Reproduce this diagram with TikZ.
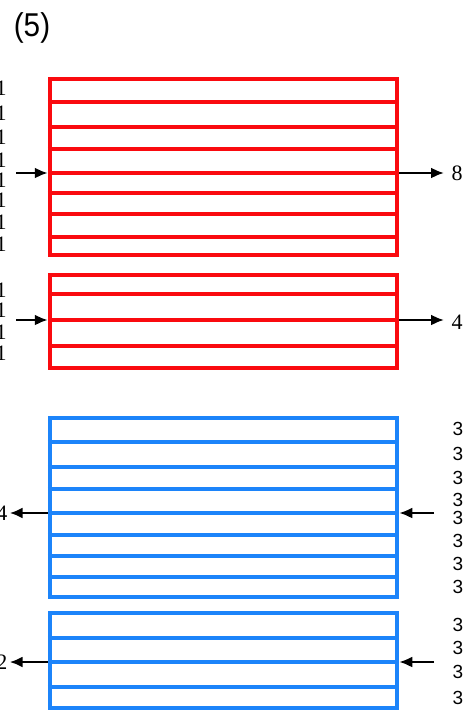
\documentclass[tikz,border=0pt]{standalone}
\usepackage{fontspec}
\setmainfont{Liberation Serif}
\newfontfamily\labsans{Liberation Sans}
\usetikzlibrary{arrows.meta}
\definecolor{bandred}{RGB}{250,10,15}
\definecolor{bandblue}{RGB}{28,132,250}
\begin{document}
\begin{tikzpicture}[x=1pt, y=-1pt]
  \tikzstyle{redbox}=[draw=bandred, line width=4.5pt, rectangle, inner sep=0pt, minimum width=347pt]
  \tikzstyle{bluebox}=[draw=bandblue, line width=4.5pt, rectangle, inner sep=0pt, minimum width=347pt]
  \tikzstyle{arr}=[line width=2.2pt, -{Latex[length=13pt,width=11pt]}]
  \tikzstyle{num}=[inner sep=2pt, font=\fontsize{22}{22}\selectfont]
  \tikzstyle{numsans}=[inner sep=2pt, font=\labsans\fontsize{19}{19}\selectfont]

\useasboundingbox (0,0) rectangle (466,712);

\node[font=\labsans\fontsize{33}{33}\selectfont, inner sep=0pt, xscale=0.9] (title) at (32,28) {(5)};

\node[redbox, minimum height=176pt] (r1) at (223.5,167) {};
\foreach \yy in {102,127,149,173,193,214,237}
  \draw[bandred, line width=4.5pt] (r1.west |- 0,\yy) -- (r1.east |- 0,\yy);

\node[redbox, minimum height=93pt] (r2) at (223.5,321.5) {};
\foreach \yy in {294,320,346}
  \draw[bandred, line width=4.5pt] (r2.west |- 0,\yy) -- (r2.east |- 0,\yy);

\node[bluebox, minimum height=179pt] (b1) at (223.5,507.5) {};
\foreach \yy in {442,467,489,513,535,556,577}
  \draw[bandblue, line width=4.5pt] (b1.west |- 0,\yy) -- (b1.east |- 0,\yy);

\node[bluebox, minimum height=95pt] (b2) at (223.5,660.5) {};
\foreach \yy in {638,662,687}
  \draw[bandblue, line width=4.5pt] (b2.west |- 0,\yy) -- (b2.east |- 0,\yy);

\foreach \yy [count=\i] in {88,113,137,160,180,200,222,244}
  \node[num] (l1\i) at (1,\yy) {1};
\foreach \yy [count=\i] in {290,310,332,353}
  \node[num] (l2\i) at (1,\yy) {1};

\foreach \yy [count=\i] in {429,454,478,500,518,541,564,587}
  \node[numsans] (t1\i) at (458,\yy) {3};
\foreach \yy [count=\i] in {625,648,672,698}
  \node[numsans] (t2\i) at (458,\yy) {3};

\coordinate (i1) at (16,173);
\draw[arr] (i1) -- (i1 -| r1.west);
\node[num] (o8) at (457,173) {8};
\draw[arr, shorten >=13pt] (r1.east |- o8) -- (o8.center);

\coordinate (i2) at (16,320);
\draw[arr] (i2) -- (i2 -| r2.west);
\node[num] (o4) at (457,322) {4};
\draw[arr, shorten >=13pt] (r2.east |- i2) -- (i2 -| o4.center);

\coordinate (i3) at (434,513);
\draw[arr] (i3) -- (i3 -| b1.east);
\node[num] (d4) at (2,513) {4};
\draw[arr] (b1.west |- d4) -- (d4.east);

\coordinate (i4) at (434,662);
\draw[arr] (i4) -- (i4 -| b2.east);
\node[num] (d2) at (2,662) {2};
\draw[arr] (b2.west |- d2) -- (d2.east);

\end{tikzpicture}
\end{document}
